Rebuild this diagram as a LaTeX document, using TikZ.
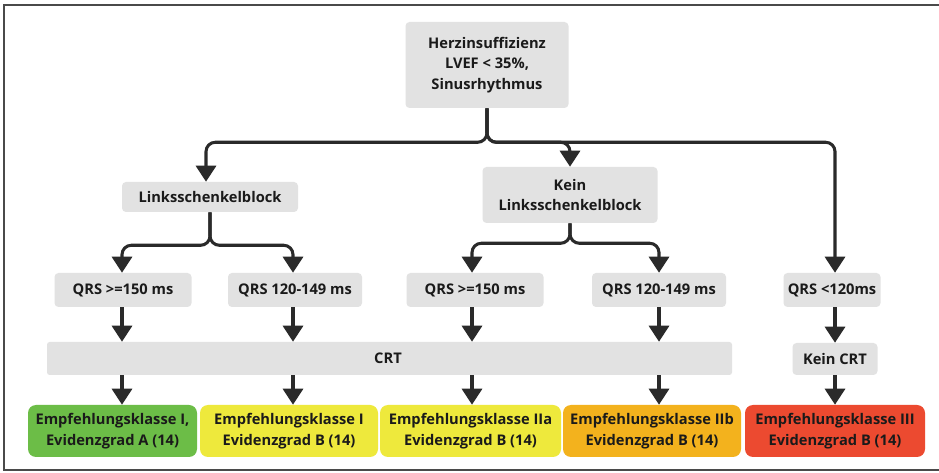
\documentclass[tikz,border=0pt]{standalone}
\usepackage{fontspec}
\setmainfont{Open Sans}
\usetikzlibrary{arrows.meta}
\definecolor{boxgrey}{HTML}{E2E2E2}
\definecolor{arrowgrey}{HTML}{2A2A2A}
\definecolor{txt}{HTML}{1A1A1A}
\definecolor{cgreen}{HTML}{6CBD47}
\definecolor{cyellow}{HTML}{EEE93C}
\definecolor{corange}{HTML}{F3B21D}
\definecolor{cred}{HTML}{EC4A30}
\definecolor{framec}{HTML}{4A4A4A}
\tikzset{
  box/.style={fill=boxgrey, draw=none, rounded corners=3pt, inner sep=0pt, align=center,
              font=\fontsize{11}{15.5}\selectfont\bfseries, text=txt},
  endbox/.style={box, rounded corners=6pt, minimum height=52*0.75pt},
  arr/.style={draw=arrowgrey, line width=2.3pt, -{Triangle[width=15pt,length=12pt]}},
  split/.style={arr, rounded corners=7pt},
}
\begin{document}
\begin{tikzpicture}[x=0.75pt,y=-0.75pt]
\useasboundingbox (0,0) rectangle (939,473);
\fill[white] (0,0) rectangle (939,473);
\draw[framec, line width=1.3pt] (939,5) -- (4,5) -- (4,470) -- (939,470);

% nodes
\node[box, minimum width=163*0.75pt, minimum height=86*0.75pt] (top) at (487,65)
  {Herzinsuffizienz\\LVEF < 35\%,\\Sinusrhythmus};
\node[box, minimum width=176*0.75pt, minimum height=30*0.75pt] (lsb) at (210,197) {Linksschenkelblock};
\node[box, minimum width=175*0.75pt, minimum height=56*0.75pt] (klsb) at (570,195) {Kein\\Linksschenkelblock};

\node[box, minimum width=137*0.75pt, minimum height=34*0.75pt] (q1) at (123,290) {QRS >=150 ms};
\node[box, minimum width=134*0.75pt, minimum height=34*0.75pt] (q2) at (295,290) {QRS 120-149 ms};
\node[box, minimum width=137*0.75pt, minimum height=34*0.75pt] (q3) at (475,290) {QRS >=150 ms};
\node[box, minimum width=134*0.75pt, minimum height=34*0.75pt] (q4) at (659,290) {QRS 120-149 ms};
\node[box, minimum width=97*0.75pt, minimum height=34*0.75pt] (q5) at (832,290) {QRS <120ms};

\node[box, rounded corners=2pt, minimum width=685*0.75pt, minimum height=33*0.75pt] (crt) at (389.5,358.5) {};
\node[font=\fontsize{11}{15.5}\selectfont\bfseries, text=txt] (crtlabel) at (388,358.5) {CRT};
\node[box, minimum width=85*0.75pt, minimum height=32*0.75pt] (kc) at (835,359) {Kein CRT};

\node[endbox, fill=cgreen, minimum width=169*0.75pt] (e1) at (112.5,431) {Empfehlungsklasse I,\\Evidenzgrad A (14)};
\node[endbox, fill=cyellow, minimum width=178*0.75pt] (e2) at (289,431) {Empfehlungsklasse I\\Evidenzgrad B (14)};
\node[endbox, fill=cyellow, minimum width=181*0.75pt] (e3) at (470.5,431) {Empfehlungsklasse IIa\\Evidenzgrad B (14)};
\node[endbox, fill=corange, minimum width=178*0.75pt] (e4) at (652,431) {Empfehlungsklasse IIb\\Evidenzgrad B (14)};
\node[endbox, fill=cred, minimum width=180*0.75pt] (e5) at (835,431) {Empfehlungsklasse III\\Evidenzgrad B (14)};

% connectors from top
\draw[split] (top.south) -- ++(0,34) -| ([xshift=-3pt]lsb.north);
\draw[split] (top.south) -- ++(0,34) -| (klsb.north);
\draw[split] (top.south) -- ++(0,34) -| ([xshift=2.25pt]q5.north);

% from Linksschenkelblock
\draw[split] (lsb.south) -- ++(0,33) -| ([xshift=-0.75pt]q1.north);
\draw[split] (lsb.south) -- ++(0,33) -| ([xshift=-1.5pt]q2.north);
% from Kein Linksschenkelblock
\draw[split] (klsb.south) -- ++(0,20) -| ([xshift=-2.25pt]q3.north);
\draw[split] (klsb.south) -- ++(0,20) -| (q4.north);

% QRS -> CRT
\draw[arr] ([xshift=-0.75pt]q1.south) -- ([xshift=-0.75pt]q1.south |- crt.north);
\draw[arr] ([xshift=-1.5pt]q2.south) -- ([xshift=-1.5pt]q2.south |- crt.north);
\draw[arr] ([xshift=-2.25pt]q3.south) -- ([xshift=-2.25pt]q3.south |- crt.north);
\draw[arr] (q4.south) -- (q4.south |- crt.north);
\draw[arr] ([xshift=2.25pt]q5.south) -- (kc.north);

% CRT -> recommendations
\draw[arr] ([xshift=-0.75pt]q1.south |- crt.south) -- ([xshift=-0.75pt]q1.south |- e1.north);
\draw[arr] ([xshift=-1.5pt]q2.south |- crt.south) -- ([xshift=-1.5pt]q2.south |- e2.north);
\draw[arr] ([xshift=-2.25pt]q3.south |- crt.south) -- ([xshift=-2.25pt]q3.south |- e3.north);
\draw[arr] (q4.south |- crt.south) -- (q4.south |- e4.north);
\draw[arr] (kc.south) -- (e5.north);
\end{tikzpicture}
\end{document}
